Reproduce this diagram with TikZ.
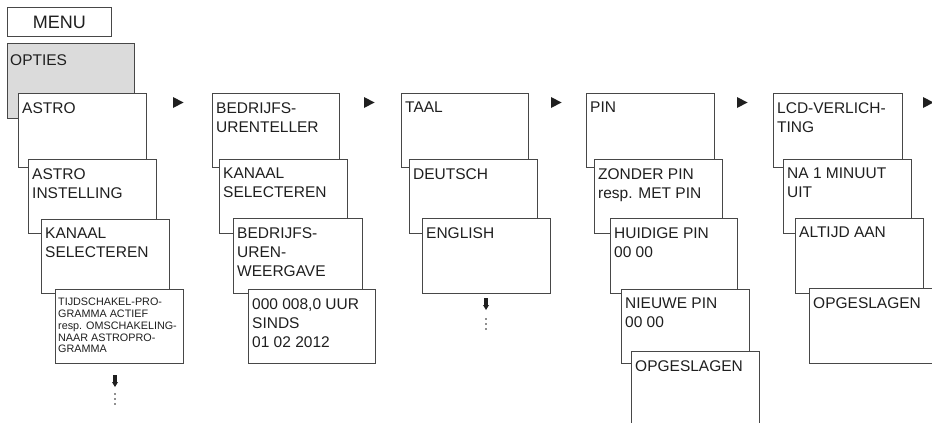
\documentclass[tikz,border=0pt]{standalone}
\usepackage{fontspec}
\setmainfont{Liberation Sans}
\newcommand\pbox[6]{%
  \node[box, minimum width=#4pt, minimum height=#5pt] (#1) at (#2,#3) {};
  \node[lbl] (#1t) at ([shift={(4,9)}]#1.north west) {#6};}
\newcommand\downarr[2]{%
  \fill[markfill] (#1-1.8,#2) -- (#1+1.8,#2) -- (#1+1.8,#2+7) -- (#1+3,#2+7) -- (#1,#2+12) -- (#1-3,#2+7) -- (#1-1.8,#2+7) -- cycle;}
\newcommand\dotcol[2]{%
  \foreach \k in {0,5,10} {\fill[markfill] (#1,#2+\k) circle (0.95);}}
\newcommand\rtri[1]{%
  \fill[markfill] (#1,97) -- (#1+10.5,102.5) -- (#1,108) -- cycle;}
\begin{document}
\begin{tikzpicture}[x=1pt,y=-1pt,
  box/.style={draw=black!72, line width=0.9pt, fill=white, rectangle, inner sep=0pt, anchor=north west},
  lbl/.style={anchor=north west, inner sep=0pt, align=left, font=\fontsize{15.5}{19}\selectfont, text=black!88},
  smalllbl/.style={lbl, font=\fontsize{10.8}{11.8}\selectfont},
  markfill/.style={fill=black!88}]
\clip (0,0) rectangle (932,423);
\fill[white] (0,0) rectangle (932,423);
% column 1
\node[box, minimum width=104pt, minimum height=29pt] (menu) at (7,7) {};
\node[font=\fontsize{18}{20}\selectfont, text=black!88, inner sep=0pt] (menut) at (menu.center) {MENU};
\node[box, fill=black!14, minimum width=127pt, minimum height=75pt] (opties) at (7,43) {};
\node[lbl] (optiest) at ([shift={(3,11)}]opties.north west) {OPTIES};
\pbox{a1}{18}{93}{128}{74}{ASTRO}
\pbox{a2}{28}{159}{128}{74}{ASTRO\\INSTELLING}
\pbox{a3}{41}{219}{128}{74}{KANAAL\\SELECTEREN}
\node[box, minimum width=128pt, minimum height=74pt] (a4) at (55,289) {};
\node[smalllbl] (a4t) at ([shift={(3,9)}]a4.north west) {TIJDSCHAKEL-PRO-\\GRAMMA ACTIEF\\resp. OMSCHAKELING-\\NAAR ASTROPRO-\\GRAMMA};
\downarr{115}{375}
\dotcol{115}{394}
\rtri{173}
% column 2
\pbox{b1}{212}{93}{127}{74}{BEDRIJFS-\\URENTELLER}
\pbox{b2}{219}{159}{128}{74}{KANAAL\\SELECTEREN}
\pbox{b3}{233}{218}{129}{75}{BEDRIJFS-\\UREN-\\WEERGAVE}
\pbox{b4}{248}{289}{127}{74}{000 008,0 UUR\\SINDS\\01 02 2012}
\rtri{364}
% column 3
\pbox{c1}{401}{93}{127}{74}{TAAL}
\pbox{c2}{409}{159}{128}{74}{DEUTSCH}
\pbox{c3}{422}{218}{128}{75}{ENGLISH}
\downarr{486}{298}
\dotcol{486}{319}
\rtri{551}
% column 4
\pbox{d1}{586}{93}{128}{74}{PIN}
\pbox{d2}{594}{159}{128}{74}{ZONDER PIN\\resp. MET PIN}
\pbox{d3}{610}{218}{127}{75}{HUIDIGE PIN\\00 00}
\pbox{d4}{621}{289}{128}{74}{NIEUWE PIN\\00 00}
\pbox{d5}{631}{351}{128}{90}{OPGESLAGEN}
\rtri{737}
% column 5
\pbox{e1}{773}{93}{129}{74}{LCD-VERLICH-\\TING}
\pbox{e2}{783}{159}{128}{74}{NA 1 MINUUT\\UIT}
\pbox{e3}{795}{218}{128}{75}{ALTIJD AAN}
\pbox{e4}{809}{288}{140}{75}{OPGESLAGEN}
\rtri{923}
\end{tikzpicture}
\end{document}
